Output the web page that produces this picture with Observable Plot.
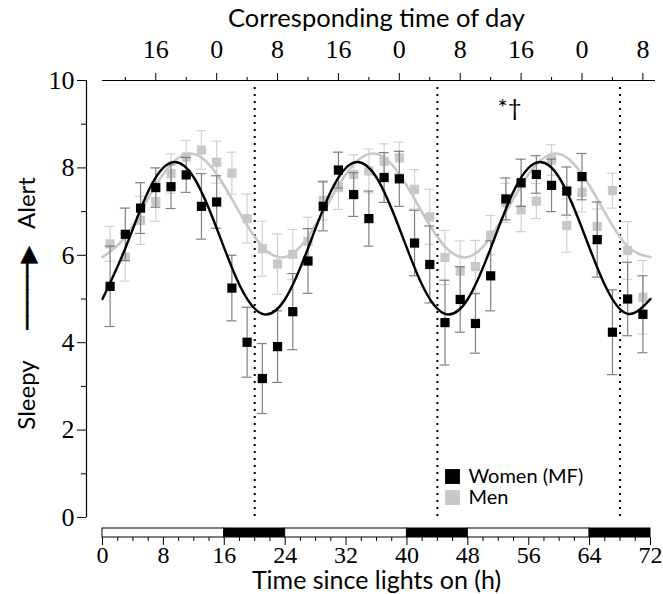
<!DOCTYPE html>
<html>
<head>
<meta charset="utf-8">
<script src="https://cdn.jsdelivr.net/npm/d3@7"></script>
<script src="https://cdn.jsdelivr.net/npm/@observablehq/plot@0.6"></script>
<style>
  body { margin: 0; background: #fff; }
  #chart { width: 663px; height: 594px; }
</style>
</head>
<body>
<div id="chart"></div>
<script>
// ---- data ----
const hours = [1,3,5,7,9,11,13,15,17,19,21,23,25,27,29,31,33,35,37,39,41,43,45,47,49,51,53,55,57,59,61,63,65,67,69,71];
const womenScore = [5.29,6.48,7.08,7.55,7.57,7.84,7.12,7.22,5.25,4.01,3.18,3.91,4.71,5.87,7.12,7.95,7.39,6.84,7.78,7.75,6.28,5.79,4.46,4.99,4.44,5.53,7.29,7.66,7.85,7.60,7.47,7.80,6.36,4.24,5.00,4.65];
const womenSem   = [0.92,0.60,0.58,0.45,0.50,0.40,0.75,0.60,0.75,0.80,0.80,0.82,0.87,0.74,0.56,0.41,0.50,0.63,0.57,0.63,0.75,0.88,0.97,0.75,0.68,0.80,0.48,0.54,0.43,0.60,0.55,0.53,0.86,0.97,0.84,0.88];
const menScore   = [6.26,5.96,6.80,7.23,7.87,8.25,8.41,8.13,7.88,6.84,6.15,5.80,6.02,6.32,7.26,7.55,7.85,7.93,8.15,8.23,7.51,6.88,5.95,5.64,5.74,6.46,7.20,7.04,7.24,8.18,6.68,7.44,6.66,7.48,6.11,5.04];
const menSem     = [0.40,0.55,0.55,0.45,0.45,0.38,0.44,0.48,0.48,0.56,0.63,0.69,0.57,0.55,0.45,0.50,0.45,0.50,0.40,0.36,0.45,0.63,0.62,0.69,0.60,0.45,0.45,0.50,0.40,0.35,0.61,0.45,0.40,0.40,0.66,0.84];

const fitHours = [0,3,6,9,12,15,18,21,24,27,30,33,36,39,42,45,48,51,54,57,60,63,66,69,72];
const womenFit = [5.00,6.16,7.46,8.12,7.78,6.62,5.32,4.66,5.00,6.16,7.46,8.12,7.78,6.62,5.32,4.66,5.00,6.16,7.46,8.12,7.78,6.62,5.32,4.66,5.00];
const menFit   = [5.96,6.42,7.30,8.08,8.32,7.86,6.98,6.20,5.96,6.42,7.30,8.08,8.32,7.86,6.98,6.20,5.96,6.42,7.30,8.08,8.32,7.86,6.98,6.20,5.96];

const periodStart = [0,16,24,40,48,64];
const periodEnd   = [16,24,40,48,64,72];
const periodDark  = [false,true,false,true,false,true];
const markerHours = [20,44,68];

const bottomTicks = [0,8,16,24,32,40,48,56,64,72];
const bottomMinor = [2,4,6,10,12,14,18,20,22,26,28,30,34,36,38,42,44,46,50,52,54,58,60,62,66,68,70];
const topTicks = [7,15,23,31,39,47,55,63,71];
const topTickLabels = ["16","0","8","16","0","8","16","0","8"];
const topMinor = [3,11,19,27,35,43,51,59,67];
const yTicks = [0,2,4,6,8,10];
const yMinor = [1,3,5,7,9];

const seriesNames = ["Women (MF)", "Men"];
const seriesColors = ["#000000", "#c8c8c8"];

// ---- tables built from the arrays ----
const women = hours.map((h, i) => ({hour: h, score: womenScore[i], lo: womenScore[i] - womenSem[i], hi: womenScore[i] + womenSem[i]}));
const men = hours.map((h, i) => ({hour: h, score: menScore[i], lo: menScore[i] - menSem[i], hi: menScore[i] + menSem[i]}));
const womenCurve = fitHours.map((h, i) => ({hour: h, score: womenFit[i]}));
const menCurve = fitHours.map((h, i) => ({hour: h, score: menFit[i]}));
const periods = periodStart.map((s, i) => ({start: s, end: periodEnd[i], dark: periodDark[i]}));

const serif = "'Liberation Serif', 'Times New Roman', serif";
const sans = "Lato, 'Open Sans', sans-serif";

function errorBars(rows, color) {
  return [
    Plot.ruleX(rows, {x: "hour", y1: "lo", y2: "hi", stroke: color, strokeWidth: 1.2}),
    Plot.ruleY(rows, {y: "lo", x1: "hour", x2: "hour", insetLeft: -5, insetRight: -5, stroke: color, strokeWidth: 1.2}),
    Plot.ruleY(rows, {y: "hi", x1: "hour", x2: "hour", insetLeft: -5, insetRight: -5, stroke: color, strokeWidth: 1.2})
  ];
}

function label(str, opts) {
  return Plot.text([str], {text: d => d, fill: "#000", textAnchor: "middle", lineAnchor: "middle", ...opts});
}

const chart = Plot.plot({
  width: 663,
  height: 594,
  marginLeft: 102,
  marginRight: 13,
  marginTop: 80,
  marginBottom: 77,
  x: {domain: [0, 72]},
  y: {domain: [0, 10]},
  style: {fontFamily: serif, fontSize: "24px", color: "#000", background: "#fff", overflow: "visible"},
  marks: [
    // light/dark schedule bar below the frame
    Plot.rect(periods, {x1: "start", x2: "end", y1: 0, y2: 0, insetTop: 11, insetBottom: -20,
      fill: d => d.dark ? "#000" : "#fff", stroke: "#000", strokeWidth: 1}),
    // dotted markers
    Plot.ruleX(markerHours, {stroke: "#000", strokeWidth: 2, strokeDasharray: "2,5", insetTop: 7, insetBottom: -3}),
    // men
    ...errorBars(men, "#d2d2d2"),
    Plot.dot(men, {x: "hour", y: "score", symbol: "square", r: 5.2, fill: seriesColors[1]}),
    Plot.line(menCurve, {x: "hour", y: "score", curve: "natural", stroke: seriesColors[1], strokeWidth: 2.6}),
    // women
    ...errorBars(women, "#808080"),
    Plot.dot(women, {x: "hour", y: "score", symbol: "square", r: 5.2, fill: seriesColors[0]}),
    Plot.line(womenCurve, {x: "hour", y: "score", curve: "natural", stroke: seriesColors[0], strokeWidth: 2.4}),
    // y axis (offset to the left)
    Plot.ruleX([0], {dx: -16, stroke: "#000", strokeWidth: 1.2}),
    Plot.axisY(yTicks, {tickSize: 9, dx: -16, tickPadding: 3, label: null, fontSize: 26, fontFamily: serif}),
    Plot.axisY(yMinor, {tickSize: 5, dx: -16, tickFormat: () => "", label: null}),
    // top axis: time of day
    Plot.ruleY([10], {stroke: "#000", strokeWidth: 1.2, insetRight: -5}),
    Plot.axisX(topTicks, {anchor: "top", tickSize: 8, tickPadding: 15, label: null, fontSize: 26, fontFamily: serif,
      tickFormat: d => topTickLabels[topTicks.indexOf(d)]}),
    Plot.axisX(topMinor, {anchor: "top", tickSize: 4, tickFormat: () => "", label: null}),
    // bottom axis under the schedule bar
    Plot.axisX(bottomTicks, {anchor: "bottom", tickSize: 8, dy: 20, tickPadding: 0, label: null, fontSize: 24, fontFamily: serif}),
    Plot.axisX(bottomMinor, {anchor: "bottom", tickSize: 4, dy: 20, tickFormat: () => "", label: null}),
    // titles
    label("Corresponding time of day", {frameAnchor: "top", dy: -62, fontFamily: sans, fontSize: 25.5}),
    label("Time since lights on (h)", {frameAnchor: "bottom", dy: 63, fontFamily: sans, fontSize: 25}),
    label("Sleepy", {frameAnchor: "left", dx: -75, dy: 96, rotate: -90, fontFamily: sans, fontSize: 24}),
    label("Alert", {frameAnchor: "left", dx: -75, dy: -96, rotate: -90, fontFamily: sans, fontSize: 24}),
    label("─────▶\uFE0E", {frameAnchor: "left", dx: -75, dy: -11, rotate: -90, fontFamily: "'DejaVu Sans'", fontSize: 22,
      stroke: "#000", strokeWidth: 0.7}),
    label("*†", {frameAnchor: "top-left", dx: 407, dy: 28, fontFamily: sans, fontSize: 24}),
    // legend
    ...seriesNames.flatMap((name, i) => [
      Plot.dot([name], {frameAnchor: "top-left", dx: 350, dy: 396 + 21 * i, symbol: "square", r: 8.4, fill: seriesColors[i]}),
      label(name, {frameAnchor: "top-left", dx: 366, dy: 396 + 21 * i, textAnchor: "start", fontFamily: sans, fontSize: 20})
    ])
  ]
});
document.getElementById("chart").append(chart);
</script>
</body>
</html>
